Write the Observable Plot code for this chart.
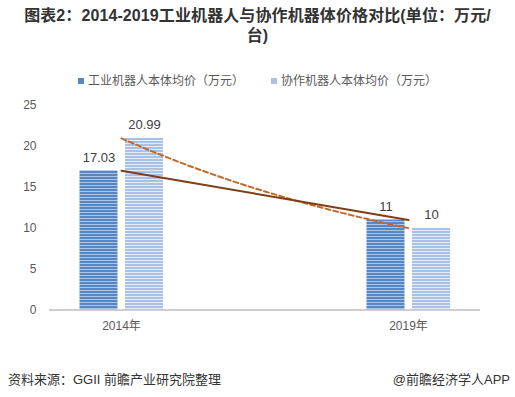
<!DOCTYPE html>
<html><head><meta charset="utf-8">
<script src="https://cdn.jsdelivr.net/npm/d3@7"></script>
<script src="https://cdn.jsdelivr.net/npm/@observablehq/plot@0.6"></script>
<style>
html,body{margin:0;padding:0;background:#fff;width:515px;height:397px;overflow:hidden;position:relative;font-family:"Liberation Sans","Noto Sans CJK SC",sans-serif;}
#title{position:absolute;top:6px;left:0;width:515px;text-align:center;font-weight:bold;font-size:16px;line-height:20px;color:#333;letter-spacing:0.1px;}
#legend{position:absolute;top:71px;left:0;width:515px;font-size:12px;color:#595959;}
.li{position:absolute;top:0;white-space:nowrap;}
.sw{display:inline-block;width:6px;height:6px;margin-right:4px;vertical-align:1px;}
#chart{position:absolute;top:90px;left:0;}
#src{position:absolute;top:369px;left:8px;font-size:13px;color:#333;}
#app{position:absolute;top:369px;right:5px;font-size:13px;color:#333;}
</style></head><body>
<div id="title">图表2：2014-2019工业机器人与协作机器体价格对比(单位：万元/<br>台)</div>
<div id="legend"></div>
<div id="chart"></div>
<div id="src">资料来源：GGII 前瞻产业研究院整理</div>
<div id="app">@前瞻经济学人APP</div>
<script>
const years = ["2014年", "2019年"];
const industrial = [17.03, 11];
const collaborative = [20.99, 10];
const seriesNames = ["工业机器人本体均价（万元）", "协作机器人本体均价（万元）"];
const yTicks = [0, 5, 10, 15, 20, 25];

const W = 515, H = 250, MT = 15, MB = 30.5, ML = 49, MR = 35;
const yScale = Plot.scale({y: {domain: [0, 25], range: [H - MB, MT]}});

// Excel-style exponential trendline between consecutive points
function expCurve(context) {
  let pts = [];
  return {
    areaStart() {}, areaEnd() {},
    lineStart() { pts = []; },
    point(x, y) { pts.push([+x, +y]); },
    lineEnd() {
      if (!pts.length) return;
      context.moveTo(pts[0][0], pts[0][1]);
      for (let i = 0; i < pts.length - 1; i++) {
        const [x0, p0] = pts[i], [x1, p1] = pts[i + 1];
        const v0 = yScale.invert(p0), v1 = yScale.invert(p1);
        const n = 40;
        for (let k = 1; k <= n; k++) {
          const t = k / n;
          context.lineTo(x0 + (x1 - x0) * t, yScale.apply(v0 * Math.pow(v1 / v0, t)));
        }
      }
    }
  };
}

const dark = years.map((y, i) => ({year: y, value: industrial[i]}));
const light = years.map((y, i) => ({year: y, value: collaborative[i]}));

const txt = "#404040";
const plot = Plot.plot({
  width: W, height: H,
  marginTop: MT, marginBottom: MB, marginLeft: ML, marginRight: MR,
  style: {fontFamily: '"Liberation Sans","Noto Sans CJK SC",sans-serif', background: "transparent"},
  x: {domain: years, paddingInner: 0.5, paddingOuter: 0, label: null},
  y: {domain: [0, 25], range: [H - MB, MT], label: null},
  marks: [
    Plot.axisY({ticks: yTicks, tickSize: 0, tickPadding: 13, fontSize: 12, fill: "#595959", label: null}),
    Plot.axisX({tickSize: 0, tickPadding: 11, fontSize: 12, fill: "#595959", label: null}),
    Plot.barY(dark, {x: "year", y: "value", fill: "url(#pDark)", insetLeft: 30.5, insetRight: 75.5}),
    Plot.barY(light, {x: "year", y: "value", fill: "url(#pLight)", insetLeft: 76, insetRight: 30}),
    Plot.ruleY([0], {stroke: "#bfbfbf", strokeWidth: 1.5}),
    Plot.line(light, {x: "year", y: "value", stroke: "#c0692e", strokeWidth: 2, strokeDasharray: "5,3", curve: expCurve}),
    Plot.line(dark, {x: "year", y: "value", stroke: "#7f3f12", strokeWidth: 2}),
    Plot.text(dark, {x: "year", y: "value", text: d => String(d.value), dx: -22.5, dy: -9, lineAnchor: "bottom", fontSize: 13, fill: txt}),
    Plot.text(light, {x: "year", y: "value", text: d => String(d.value), dx: 23, dy: -9, lineAnchor: "bottom", fontSize: 13, fill: txt})
  ]
});

const defs = `<defs>
<pattern id="pDark" width="4" height="3" patternUnits="userSpaceOnUse"><rect width="4" height="3" fill="#5686c4"/><rect y="2" width="4" height="1" fill="#a9c5ea"/></pattern>
<pattern id="pLight" width="4" height="3" patternUnits="userSpaceOnUse"><rect width="4" height="3" fill="#a9c1e4"/><rect y="2" width="4" height="1" fill="#e3ecf8"/></pattern>
</defs>`;
plot.insertAdjacentHTML("afterbegin", defs);
document.getElementById("chart").appendChild(plot);

const legend = document.getElementById("legend");
const lx = [78, 271];
const swFill = ["#5686c4", "#a9c1e4"];
seriesNames.forEach((n, i) => {
  const d = document.createElement("div");
  d.className = "li";
  d.style.left = lx[i] + "px";
  d.innerHTML = `<span class="sw" style="background:${swFill[i]}"></span>${n}`;
  legend.appendChild(d);
});
</script>
</body></html>
